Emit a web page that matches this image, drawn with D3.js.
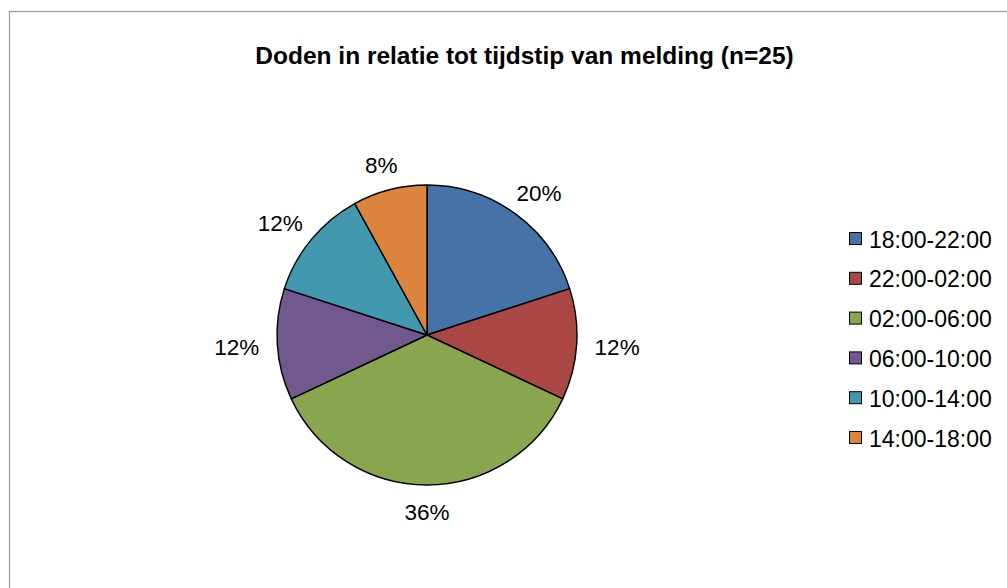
<!DOCTYPE html>
<html>
<head>
<meta charset="utf-8">
<script src="https://cdn.jsdelivr.net/npm/d3@7"></script>
<style>
  body { margin: 0; background: #fff; }
  svg { display: block; font-family: "Liberation Sans", Arial, sans-serif; }
</style>
</head>
<body>
<svg id="chart" width="1007" height="588"></svg>
<script>
// chart data
var categories = ["18:00-22:00", "22:00-02:00", "02:00-06:00", "06:00-10:00", "10:00-14:00", "14:00-18:00"];
var counts = [5, 3, 9, 3, 3, 2];
var colors = ["#4572A7", "#AA4643", "#89A54E", "#71588F", "#4198AF", "#DB843D"];
var chartTitle = "Doden in relatie tot tijdstip van melding (n=25)";

var svg = d3.select("#chart");
var total = d3.sum(counts);

// outer frame (runs off the right and bottom edge)
svg.append("rect")
   .attr("x", 9.5).attr("y", 11.5)
   .attr("width", 1010).attr("height", 600)
   .attr("fill", "none")
   .attr("stroke", "#9a9a9a")
   .attr("stroke-width", 1.2);

svg.append("text")
   .attr("x", 524.5).attr("y", 64)
   .attr("text-anchor", "middle")
   .style("font-size", "24.5px")
   .style("font-weight", "bold")
   .text(chartTitle);

var cx = 427, cy = 335, radius = 150;

var pie = d3.pie().sort(null).value(function (d) { return d; });
var arc = d3.arc().innerRadius(0).outerRadius(radius);
var slices = pie(counts);

var g = svg.append("g").attr("transform", "translate(" + cx + "," + cy + ")");

g.selectAll("path.slice")
 .data(slices)
 .enter().append("path")
 .attr("class", "slice")
 .attr("d", arc)
 .attr("fill", function (d, i) { return colors[i]; })
 .attr("stroke", "#000")
 .attr("stroke-width", 1.4)
 .attr("stroke-linejoin", "round");

// percentage labels, pushed outside the pie along the mid angle
var pct = d3.format(".0%");
var gap = 18, labelH = 17;
g.selectAll("text.lbl")
 .data(slices)
 .enter().append("text")
 .attr("class", "lbl")
 .style("font-size", "22.5px")
 .attr("text-anchor", "middle")
 .text(function (d) { return pct(d.data / total); })
 .each(function (d) {
   var a = (d.startAngle + d.endAngle) / 2;
   var w = this.getComputedTextLength();
   var s = Math.sin(a), c = Math.cos(a);
   var x = (radius + gap) * s + w / 2 * s;
   var y = -(radius + gap) * c - labelH / 2 * c;
   d3.select(this).attr("x", x).attr("y", y + labelH / 2);
 });

// legend
var legend = svg.append("g").attr("transform", "translate(849,232)");
var rowStep = 39.8;
var rows = legend.selectAll("g.row")
  .data(categories)
  .enter().append("g")
  .attr("class", "row")
  .attr("transform", function (d, i) { return "translate(0," + (i * rowStep) + ")"; });

rows.append("rect")
    .attr("x", 0.5).attr("y", 0.5)
    .attr("width", 12).attr("height", 12)
    .attr("fill", function (d, i) { return colors[i]; })
    .attr("stroke", "#000")
    .attr("stroke-width", 1);

rows.append("text")
    .attr("x", 20).attr("y", 15.5)
    .style("font-size", "23px")
    .text(function (d) { return d; });
</script>
</body>
</html>
